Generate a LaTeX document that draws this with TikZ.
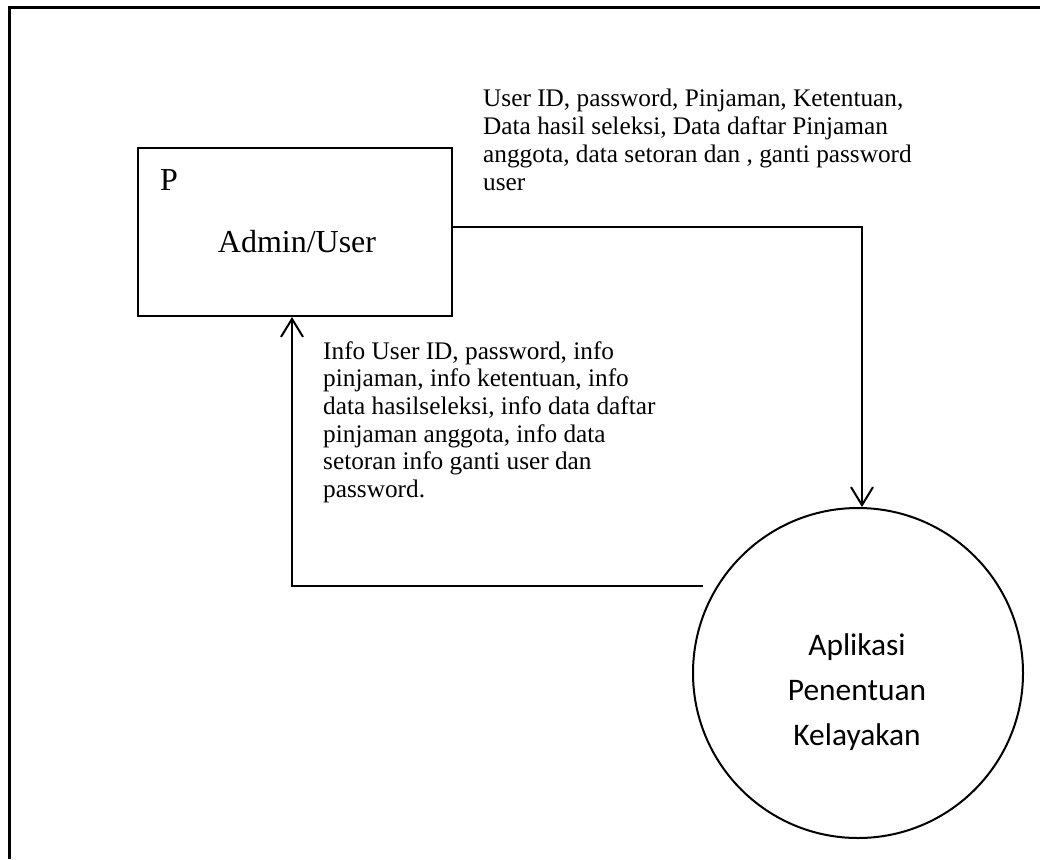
\documentclass[tikz,border=0pt]{standalone}
\usepackage{fontspec}
\setmainfont{Liberation Serif}
\newfontfamily\calibri{Carlito}
\usetikzlibrary{arrows.meta}
\begin{document}
\begin{tikzpicture}[x=1pt,y=-1pt,
  entity/.style={draw,line width=2pt,minimum width=314pt,minimum height=168pt,inner sep=0pt},
  process/.style={draw,circle,line width=2pt,minimum size=330pt,inner sep=0pt},
  flow/.style={line width=2pt,-{Straight Barb[length=18pt,width=22pt,line width=2pt]}},
  lbl/.style={font=\fontsize{25.3}{27.7}\selectfont,align=left,inner sep=0pt,anchor=base west}]
\useasboundingbox (0,0) rectangle (1040,859);
\draw[line width=3pt] (9,859) -- (9,8) -- (1040,8);
\node[entity] (admin) at (295,232) {};
\node[font=\fontsize{32}{36}\selectfont,anchor=base west,inner sep=0pt] (p) at (160,190) {P};
\node[font=\fontsize{32}{36}\selectfont,anchor=base,inner sep=0pt] (an) at (297,252) {Admin/User};
\node[process] (app) at (858,673) {};
\node[font=\calibri\fontsize{31.4}{45}\selectfont,align=center,anchor=base,inner sep=0pt] (appl) at (857,745) {Aplikasi\\Penentuan\\Kelayakan};
\coordinate (ret) at (703,586);
\draw[flow] ([yshift=5pt]admin.east) -| ([xshift=4pt]app.north);
\draw[flow] (ret) -| ([xshift=-3pt]admin.south);
\node[lbl] (top) at (483,190) {User ID, password, Pinjaman, Ketentuan,\\Data hasil seleksi, Data daftar Pinjaman\\anggota, data setoran dan , ganti password\\user};
\node[lbl] (bot) at (323,497.5) {Info User ID, password, info\\pinjaman, info ketentuan, info\\data hasilseleksi, info data daftar\\pinjaman anggota, info data\\setoran info ganti user dan\\password.};
\end{tikzpicture}
\end{document}
